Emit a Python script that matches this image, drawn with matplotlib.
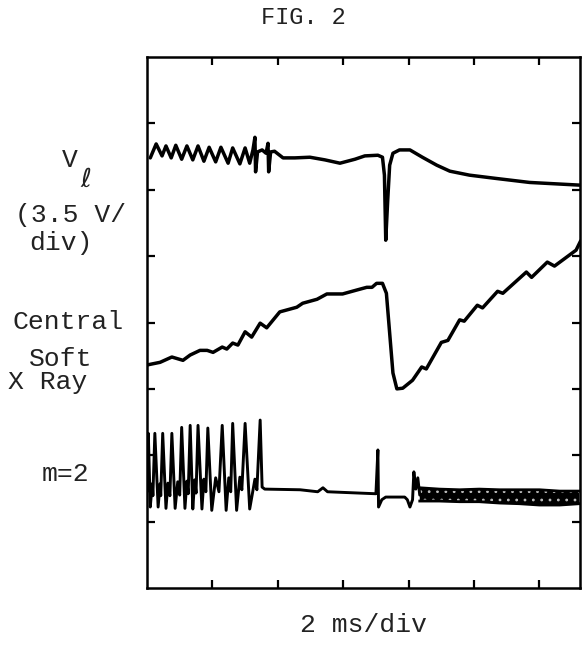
import matplotlib
matplotlib.use("Agg")
import matplotlib.pyplot as plt

# ---- data (time in divisions of 2 ms, amplitude in vertical divisions) ----
vl_t = [0.05, 0.14, 0.23, 0.29, 0.37, 0.44, 0.53, 0.61, 0.70, 0.78, 0.87, 0.95,
        1.05, 1.13, 1.24, 1.31, 1.42, 1.50, 1.57, 1.62, 1.65, 1.66, 1.69, 1.76,
        1.82, 1.85, 1.86, 1.89, 1.95, 2.08, 2.26, 2.49, 2.72, 2.95, 3.18, 3.33,
        3.53, 3.60, 3.63, 3.65, 3.68, 3.71, 3.76, 3.86, 4.02, 4.21, 4.43, 4.63,
        4.93, 5.34, 5.85, 6.61]
vl_v = [6.48, 6.69, 6.51, 6.66, 6.48, 6.67, 6.46, 6.66, 6.45, 6.66, 6.43, 6.64,
        6.42, 6.64, 6.40, 6.63, 6.39, 6.63, 6.40, 6.60, 6.79, 6.27, 6.57, 6.60,
        6.55, 6.70, 6.27, 6.57, 6.58, 6.48, 6.48, 6.49, 6.45, 6.40, 6.46, 6.51,
        6.52, 6.49, 6.22, 5.24, 5.84, 6.37, 6.55, 6.60, 6.60, 6.49, 6.37, 6.28,
        6.22, 6.17, 6.11, 6.07]

sxr_t = [0.00, 0.20, 0.38, 0.55, 0.66, 0.81, 0.92, 1.01, 1.15, 1.22, 1.31, 1.39,
         1.50, 1.60, 1.73, 1.83, 2.03, 2.29, 2.38, 2.60, 2.75, 2.99, 3.21, 3.36,
         3.44, 3.51, 3.60, 3.66, 3.71, 3.76, 3.82, 3.91, 4.06, 4.20, 4.27, 4.50,
         4.60, 4.78, 4.85, 5.05, 5.13, 5.36, 5.44, 5.80, 5.88, 6.12, 6.23, 6.56,
         6.63]
sxr_v = [3.36, 3.40, 3.48, 3.43, 3.51, 3.58, 3.58, 3.55, 3.63, 3.60, 3.69, 3.66,
         3.86, 3.78, 3.99, 3.92, 4.16, 4.23, 4.29, 4.35, 4.43, 4.43, 4.49, 4.53,
         4.53, 4.59, 4.59, 4.44, 3.84, 3.24, 3.00, 3.01, 3.13, 3.33, 3.30, 3.70,
         3.73, 4.04, 4.02, 4.26, 4.22, 4.47, 4.44, 4.76, 4.68, 4.91, 4.85, 5.09,
         5.23]

m2_t = [0.00, 0.02, 0.05, 0.08, 0.09, 0.12, 0.17, 0.20, 0.21, 0.24, 0.29, 0.32,
        0.35, 0.38, 0.43, 0.47, 0.50, 0.53, 0.58, 0.61, 0.63, 0.66, 0.70, 0.73,
        0.75, 0.78, 0.84, 0.87, 0.90, 0.93, 0.99, 1.05, 1.10, 1.15, 1.21, 1.25,
        1.28, 1.31, 1.37, 1.42, 1.45, 1.50, 1.57, 1.65, 1.68, 1.73, 1.76, 1.80,
        2.34, 2.61, 2.69, 2.76, 3.25, 3.50, 3.53, 3.54, 3.59, 3.65, 3.94, 3.98,
        4.02, 4.06, 4.08, 4.11, 4.14, 4.17]
m2_v = [1.45, 2.33, 1.22, 1.57, 1.39, 2.33, 1.22, 1.57, 1.39, 2.33, 1.20, 1.58,
        1.39, 2.33, 1.20, 1.60, 1.40, 2.42, 1.20, 1.61, 1.42, 2.45, 1.19, 1.63,
        1.43, 2.45, 1.19, 1.64, 1.45, 2.41, 1.17, 1.66, 1.45, 2.45, 1.17, 1.66,
        1.45, 2.48, 1.17, 1.67, 1.48, 2.48, 1.19, 1.64, 1.48, 2.53, 1.52, 1.49,
        1.48, 1.45, 1.51, 1.45, 1.43, 1.42, 2.08, 1.22, 1.33, 1.37, 1.37, 1.33,
        1.22, 1.33, 1.75, 1.49, 1.66, 1.40]

band_t = [4.17, 4.47, 4.78, 5.08, 5.39, 5.69, 6.00, 6.31, 6.61]
band_hi = [1.51, 1.49, 1.48, 1.49, 1.48, 1.48, 1.48, 1.46, 1.46]
band_lo = [1.31, 1.31, 1.30, 1.30, 1.28, 1.27, 1.25, 1.25, 1.27]

x_ticks = [1, 2, 3, 4, 5, 6]
y_ticks = [1, 2, 3, 4, 5, 6, 7]

W, H = 582, 651
plt.rcParams["hatch.linewidth"] = 0.8
fig = plt.figure(figsize=(W / 100, H / 100), dpi=100)
ax = fig.add_axes([147 / W, (H - 588) / H, (580 - 147) / W, (588 - 57) / H])
ax.set_xlim(0, 6.62)
ax.set_ylim(0, 8)

lw = 2.5
ax.plot(vl_t, vl_v, color="black", lw=lw, solid_joinstyle="round", solid_capstyle="round")
ax.plot(sxr_t, sxr_v, color="black", lw=lw, solid_joinstyle="round", solid_capstyle="round")
ax.plot(m2_t, m2_v, color="black", lw=2.1, solid_joinstyle="round", solid_capstyle="round")
ax.fill_between(band_t, band_lo, band_hi, facecolor="black", edgecolor="#bdbdbd",
                linewidth=0, hatch="..")
ax.plot(band_t, band_hi, color="black", lw=2.0)
ax.plot(band_t, band_lo, color="black", lw=2.0)

for s in ax.spines.values():
    s.set_linewidth(1.8)
ax.set_xticks(x_ticks)
ax.set_yticks(y_ticks)
ax.tick_params(direction="in", length=6, width=1.6, top=True, right=True,
               labelbottom=False, labelleft=False)

mono = ["Liberation Mono", "DejaVu Sans Mono", "DejaVu Sans"]
def t(x, y, s, size=19, ha="left"):
    fig.text(x / W, 1 - y / H, s, family=mono, fontsize=size, ha=ha, va="center", color="#222222")

t(303, 18, "FIG. 2", size=17, ha="center")
t(62, 160, "V")
fig.text(80 / W, 1 - 180 / H, r"$\ell$", fontsize=19, ha="left", va="center", color="#222222")
t(15, 215, "(3.5 V/")
t(29, 243, "div)")
t(12, 322, "Central")
t(29, 359, "Soft")
t(8, 382, "X Ray")
t(42, 474, "m=2")
t(300, 625, "2 ms/div")

fig.savefig("out.png", dpi=100)
